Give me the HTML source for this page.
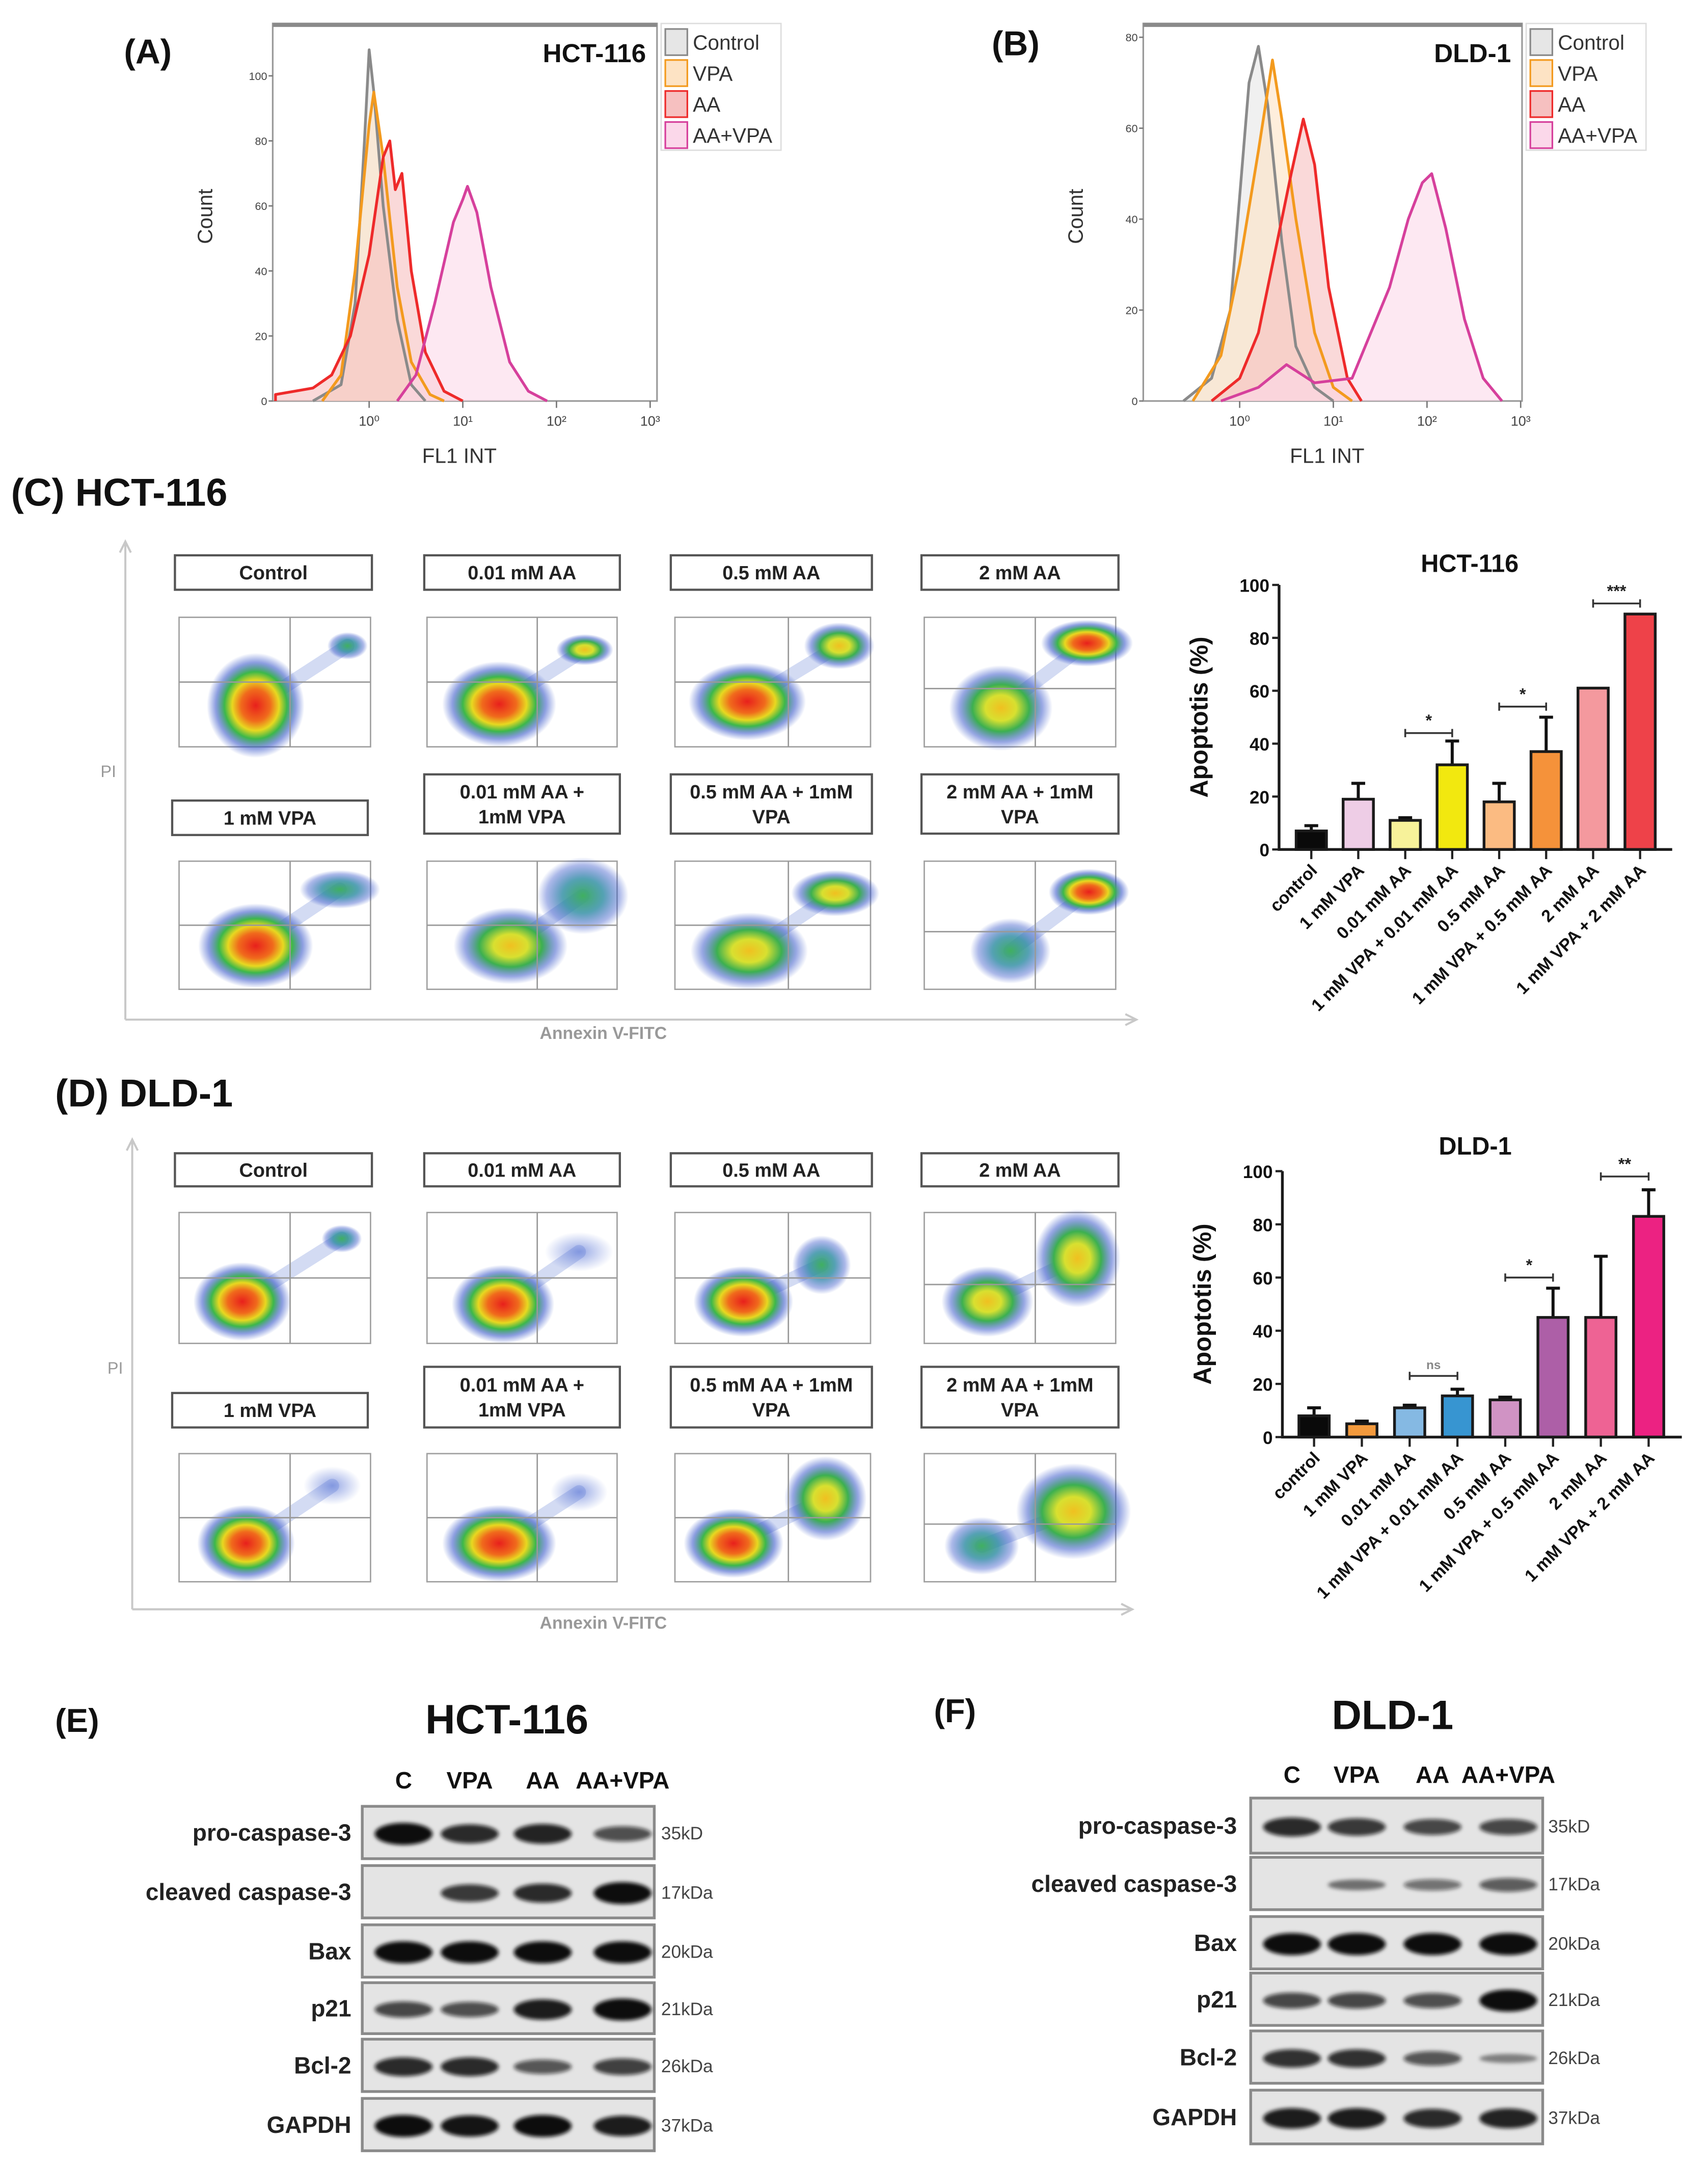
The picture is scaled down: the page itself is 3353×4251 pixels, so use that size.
<!DOCTYPE html>
<html><head><meta charset="utf-8"><style>
html,body{margin:0;padding:0;background:#fff;}
svg{display:block;font-family:"Liberation Sans",sans-serif;}
.n{font-family:"Liberation Sans Narrow","Liberation Sans",sans-serif;font-stretch:condensed;}
</style></head><body>
<svg id="fig" xmlns="http://www.w3.org/2000/svg" width="3353" height="4251" viewBox="0 0 1240 1572">
<defs>
<radialGradient id="g3"><stop offset="0" stop-color="#e8201c"/><stop offset="0.3" stop-color="#f06a1c"/><stop offset="0.48" stop-color="#e8d820"/><stop offset="0.64" stop-color="#3cb84a"/><stop offset="0.82" stop-color="#3050c8" stop-opacity="0.55"/><stop offset="1" stop-color="#3050c8" stop-opacity="0"/></radialGradient>
<radialGradient id="g2"><stop offset="0" stop-color="#f0c020"/><stop offset="0.3" stop-color="#d8e030"/><stop offset="0.55" stop-color="#3cb050"/><stop offset="0.8" stop-color="#3050c8" stop-opacity="0.5"/><stop offset="1" stop-color="#3050c8" stop-opacity="0"/></radialGradient>
<radialGradient id="g1"><stop offset="0" stop-color="#40b060"/><stop offset="0.45" stop-color="#2a8aa0" stop-opacity="0.8"/><stop offset="0.8" stop-color="#3050c8" stop-opacity="0.4"/><stop offset="1" stop-color="#3050c8" stop-opacity="0"/></radialGradient>
<radialGradient id="g0"><stop offset="0" stop-color="#4060d0" stop-opacity="0.55"/><stop offset="1" stop-color="#4060d0" stop-opacity="0"/></radialGradient>
<filter id="blur" x="-30%" y="-100%" width="160%" height="300%"><feGaussianBlur stdDeviation="1.4"/></filter>
</defs>
</svg>
<script>
// ---------- histogram data (x = log10 FL1, y = count) ----------
const hctControl=[[-0.6,0],[-0.3,5],[-0.15,30],[-0.05,80],[0,108],[0.05,95],[0.15,60],[0.3,25],[0.45,5],[0.6,0]];
const hctVPA=[[-0.5,0],[-0.3,8],[-0.15,40],[0,85],[0.05,95],[0.15,75],[0.3,35],[0.45,12],[0.65,2],[0.8,0]];
const hctAA=[[-1,2],[-0.6,4],[-0.4,8],[-0.2,20],[0,45],[0.15,75],[0.22,80],[0.28,65],[0.35,70],[0.45,40],[0.6,15],[0.8,3],[1,0]];
const hctAAVPA=[[0.3,0],[0.5,8],[0.7,30],[0.9,55],[1.0,62],[1.05,66],[1.15,58],[1.3,35],[1.5,12],[1.7,3],[1.9,0]];
const dldControl=[[-0.6,0],[-0.3,5],[-0.1,20],[0,45],[0.1,70],[0.2,78],[0.3,65],[0.45,35],[0.6,12],[0.8,3],[1,0]];
const dldVPA=[[-0.5,0],[-0.2,10],[0,30],[0.2,55],[0.35,75],[0.45,62],[0.6,40],[0.8,15],[1.0,3],[1.2,0]];
const dldAA=[[-0.3,0],[0,5],[0.2,15],[0.4,35],[0.55,50],[0.68,62],[0.8,52],[0.95,25],[1.15,5],[1.3,0]];
const dldAAVPA=[[-0.2,0],[0.2,3],[0.5,8],[0.8,4],[1.2,5],[1.4,15],[1.6,25],[1.8,40],[1.95,48],[2.05,50],[2.2,38],[2.4,18],[2.6,5],[2.8,0]];
const histNames=['Control','VPA','AA','AA+VPA'];
const histTicksA=[0,20,40,60,80,100];
const histTicksB=[0,20,40,60,80];
const decadeLabels=['10⁰','10¹','10²','10³'];
// ---------- bar chart data ----------
const barCats=['control','1 mM VPA','0.01 mM AA','1 mM VPA + 0.01 mM AA','0.5 mM AA','1 mM VPA + 0.5 mM AA','2 mM AA','1 mM VPA + 2 mM AA'];
const hctMeans=[7,19,11,32,18,37,61,89];
const hctErrTop=[9,25,12,41,25,50,61,89];
const dldMeans=[8,5,11,15.5,14,45,45,83];
const dldErrTop=[11,6,12,18,15,56,68,93];
const barTicks=[0,20,40,60,80,100];
const hctSig=[[2,3,44,'*'],[4,5,54,'*'],[6,7,93,'***']];
const dldSig=[[2,3,23,'ns'],[4,5,60,'*'],[6,7,98,'**']];
// ---------- blot data ----------
const blotRows=['pro-caspase-3','cleaved caspase-3','Bax','p21','Bcl-2','GAPDH'];
const blotKDa=['35kD','17kDa','20kDa','21kDa','26kDa','37kDa'];
const blotLanes=['C','VPA','AA','AA+VPA'];
const hctBands=[[1,0.8,0.85,0.55],[0,0.7,0.8,1],[1,1,1,1],[0.6,0.55,0.9,1],[0.8,0.8,0.5,0.65],[1,0.95,1,0.9]];
const dldBands=[[0.8,0.7,0.6,0.6],[0,0.25,0.3,0.45],[1,1,1,1],[0.6,0.6,0.55,1],[0.75,0.75,0.5,0.15],[0.9,0.9,0.8,0.85]];

const NS='http://www.w3.org/2000/svg';
const svg=document.getElementById('fig');
function mk(tag,attrs,parent){const e=document.createElementNS(NS,tag);for(const k in attrs)e.setAttribute(k,attrs[k]);(parent||svg).appendChild(e);return e;}
function tx(str,attrs,parent){const e=mk('text',attrs,parent);e.textContent=str;return e;}

// ---------- panel letters/titles ----------
const titles=[['(A)',90,46,25,'panel-a-label'],['(B)',720,40,25,'panel-b-label'],['(C) HCT-116',8,367,28,'panel-c-title'],['(D) DLD-1',40,803,28,'panel-d-title'],['(E)',40,1257,24,'panel-e-label'],['(F)',678,1250,24,'panel-f-label']];
titles.forEach(t=>{
  const e=tx(t[0],{x:t[1],y:t[2],'font-size':t[3],'font-weight':'bold',fill:'#111'});
  
  
});

// ---------- histograms ----------
const histCols=[['#8a8a8a','#e6e6e6'],['#f39a1e','#fde3c4'],['#ee2a2a','#f6c0c0'],['#d6409c','#fbd8ea']];
function hist(P,series,ticks){
  const g=mk('g',{});
  
  
  const xs=v=>P.xZero+v*P.dec;
  const ys=c=>P.yBase-c/P.yMax*(P.yBase-P.yMaxPx);
  const fr=mk('rect',{x:P.left,y:P.top,width:P.right-P.left,height:P.yBase-P.top,fill:'#fff',stroke:'#9a9a9a','stroke-width':1.2},g);
  
  
  const tl=mk('line',{x1:P.left,x2:P.right,y1:P.top+1,y2:P.top+1,stroke:'#8a8a8a','stroke-width':3},g);
  
  
  series.forEach((s,i)=>{
    let d='M'+xs(s[0][0])+','+P.yBase;
    s.forEach(p=>{d+=' L'+xs(p[0]).toFixed(1)+','+ys(p[1]).toFixed(1);});
    d+=' L'+xs(s[s.length-1][0])+','+P.yBase;
    const f=mk('path',{d:d+'Z',fill:histCols[i][1],'fill-opacity':0.6,stroke:'none'},g);
    
    
  });
  series.forEach((s,i)=>{
    let d='M'+xs(s[0][0])+','+P.yBase;
    s.forEach(p=>{d+=' L'+xs(p[0]).toFixed(1)+','+ys(p[1]).toFixed(1);});
    const l=mk('path',{d:d,fill:'none',stroke:histCols[i][0],'stroke-width':2,'stroke-linejoin':'round'},g);
    
    
  });
  ticks.forEach(t=>{
    const tk=mk('line',{x1:P.left-3,x2:P.left,y1:ys(t),y2:ys(t),stroke:'#777','stroke-width':1},g);
    
    
    const tl2=tx(String(t),{x:P.left-4,y:ys(t)+3,'font-size':8,'text-anchor':'end',fill:'#444'},g);
    
    
  });
  decadeLabels.forEach((lab,i)=>{
    const tk=mk('line',{x1:xs(i),x2:xs(i),y1:P.yBase,y2:P.yBase+5,stroke:'#777','stroke-width':1},g);
    
    
    const t=tx(lab,{x:xs(i),y:P.yBase+18,'font-size':10,'text-anchor':'middle',fill:'#444'},g);
    
    
  });
  const xt=tx('FL1 INT',{x:(P.left+P.right)/2-4,y:P.yBase+45,'font-size':15,'text-anchor':'middle',fill:'#333',class:'n'},g);
  
  
  const yt=tx('Count',{x:0,y:0,'font-size':15,'text-anchor':'middle',fill:'#333',transform:'translate('+(P.left-44)+','+(P.top+140)+') rotate(-90)'},g);
  
  
  const ct=tx(P.cell,{x:P.right-8,y:P.top+28,'font-size':19,'font-weight':'bold','text-anchor':'end',fill:'#111',class:'n'},g);
  
  
  const lg=mk('rect',{x:P.right+3,y:P.top,width:87,height:92,fill:'#fff',stroke:'#ddd','stroke-width':1},g);
  
  
  histNames.forEach((n,i)=>{
    const sw=mk('rect',{x:P.right+6,y:P.top+4+i*22.5,width:16,height:19,fill:histCols[i][1],stroke:histCols[i][0],'stroke-width':1.2},g);
    
    
    const lt=tx(n,{x:P.right+26,y:P.top+19+i*22.5,'font-size':15,fill:'#333',class:'n'},g);
    
    
  });
}
hist({name:'histogram-hct116',cell:'HCT-116',left:198,right:477,top:17,yBase:291,xZero:268,dec:68,yMax:100,yMaxPx:55},[hctControl,hctVPA,hctAA,hctAAVPA],histTicksA);
hist({name:'histogram-dld1',cell:'DLD-1',left:830,right:1105,top:17,yBase:291,xZero:900,dec:68,yMax:80,yMaxPx:27},[dldControl,dldVPA,dldAA,dldAAVPA],histTicksB);

// ---------- flow cytometry dot plots ----------
const labelsRow1=['Control','0.01 mM AA','0.5 mM AA','2 mM AA'];
const labelsRow2=[['1 mM VPA'],['0.01 mM AA +','1mM VPA'],['0.5 mM AA + 1mM','VPA'],['2 mM AA + 1mM','VPA']];
const plotX=[[130,269],[310,448],[490,632],[671,810]];
const boxX=[[127,270],[308,450],[487,633],[669,812]];
const hctClusters=[[[0.4,0.68,0.17,0.27,3],[0.88,0.22,0.07,0.07,1]],[[0.38,0.67,0.2,0.22,3],[0.83,0.25,0.1,0.08,2]],[[0.37,0.65,0.2,0.2,3],[0.84,0.22,0.12,0.12,2]],[[0.4,0.7,0.18,0.22,2],[0.85,0.2,0.16,0.12,3]],
[[0.4,0.66,0.2,0.22,3],[0.84,0.22,0.14,0.1,1]],[[0.44,0.66,0.2,0.2,2],[0.82,0.27,0.16,0.2,1]],[[0.38,0.7,0.2,0.2,2],[0.82,0.25,0.15,0.12,2]],[[0.45,0.7,0.14,0.17,1],[0.86,0.24,0.14,0.12,3]]];
const dldClusters=[[[0.33,0.68,0.17,0.2,3],[0.85,0.2,0.07,0.07,1]],[[0.4,0.7,0.18,0.2,3],[0.8,0.3,0.12,0.1,0]],[[0.35,0.68,0.17,0.18,3],[0.75,0.4,0.1,0.15,1]],[[0.33,0.68,0.16,0.18,2],[0.8,0.35,0.15,0.25,2]],
[[0.35,0.7,0.17,0.2,3],[0.8,0.25,0.1,0.1,0]],[[0.38,0.7,0.2,0.2,3],[0.8,0.3,0.1,0.1,0]],[[0.3,0.7,0.17,0.18,3],[0.77,0.35,0.14,0.22,2]],[[0.3,0.72,0.13,0.15,1],[0.78,0.45,0.2,0.25,2]]];
function flow(P,clusters){
  const g=mk('g',{});
  
  
  const va=mk('path',{d:'M'+P.ax+','+P.ay1+' L'+P.ax+','+P.ay0+' M'+(P.ax-4)+','+(P.ay0+8)+' L'+P.ax+','+P.ay0+' L'+(P.ax+4)+','+(P.ay0+8),fill:'none',stroke:'#c8c8c8','stroke-width':1.5},g);
  
  
  const ha=mk('path',{d:'M'+P.ax+','+P.ay1+' L'+P.axEnd+','+P.ay1+' M'+(P.axEnd-8)+','+(P.ay1-4)+' L'+P.axEnd+','+P.ay1+' L'+(P.axEnd-8)+','+(P.ay1+4),fill:'none',stroke:'#c8c8c8','stroke-width':1.5},g);
  
  
  const pi=tx('PI',{x:P.ax-18,y:P.piY,'font-size':12,fill:'#999'},g);
  
  
  const an=tx('Annexin V-FITC',{x:438,y:P.ay1+14,'font-size':12.5,'font-weight':'bold','text-anchor':'middle',fill:'#999'},g);
  
  
  for(let r=0;r<2;r++){
    for(let c=0;c<4;c++){
      const i=r*4+c;
      const [x0,x1]=plotX[c];const [y0,y1]=P.rows[r];
      const fr=mk('rect',{x:x0,y:y0,width:x1-x0,height:y1-y0,fill:'#fff',stroke:'#a0a0a0','stroke-width':1},g);
      
      
      const cl=clusters[i];
      const a=cl[0],b=cl[1];
      const bridge=mk('line',{x1:x0+a[0]*(x1-x0),y1:y0+a[1]*(y1-y0),x2:x0+b[0]*(x1-x0),y2:y0+b[1]*(y1-y0),stroke:'#5070d0','stroke-opacity':0.25,'stroke-width':10,'stroke-linecap':'round'},g);
      
      
      cl.forEach(k=>{
        const e=mk('ellipse',{cx:x0+k[0]*(x1-x0),cy:y0+k[1]*(y1-y0),rx:k[2]*(x1-x0)*1.5,ry:k[3]*(y1-y0)*1.5,fill:'url(#g'+k[4]+')'},g);
        
        
      });
      const qy=(c===3)?0.55:0.5;
      const q=mk('path',{d:'M'+(x0+0.58*(x1-x0))+','+y0+' V'+y1+' M'+x0+','+(y0+qy*(y1-y0))+' H'+x1,stroke:'#999','stroke-width':1,fill:'none'},g);
      
      
      const bx=(r===1&&c===0)?[125,267]:boxX[c];
      const lines=r===0?[labelsRow1[c]]:labelsRow2[c];
      const by0=r===0?P.box1[0]:(lines.length===1?P.box2s[0]:P.box2d[0]);
      const by1=r===0?P.box1[1]:(lines.length===1?P.box2s[1]:P.box2d[1]);
      const lb=mk('rect',{x:bx[0],y:by0,width:bx[1]-bx[0],height:by1-by0,fill:'#fff',stroke:'#555','stroke-width':1.6},g);
      
      
      lines.forEach((s,j)=>{
        const cy=(by0+by1)/2+(j-(lines.length-1)/2)*18+5;
        const t=tx(s,{x:(bx[0]+bx[1])/2,y:cy,'font-size':14,'font-weight':'bold','text-anchor':'middle',fill:'#222',class:'n'},g);
        
        
      });
    }
  }
}
flow({name:'flow-dot-plots-hct116',ax:91,ay0:393,ay1:740,axEnd:825,piY:564,rows:[[448,542],[625,718]],box1:[403,428],box2s:[581,606],box2d:[562,605]},hctClusters);
flow({name:'flow-dot-plots-dld1',ax:96,ay0:827,ay1:1168,axEnd:822,piY:997,rows:[[880,975],[1055,1148]],box1:[837,861],box2s:[1011,1036],box2d:[992,1036]},dldClusters);

// ---------- bar charts ----------
function bars(P,means,errs,sig,cols){
  const g=mk('g',{});
  
  
  const ys=v=>P.y0-v/100*(P.y0-P.y100);
  const xc=i=>P.first+i*P.step;
  means.forEach((m,i)=>{
    if(errs[i]>m){
      const el=mk('path',{d:'M'+xc(i)+','+ys(m)+' V'+ys(errs[i])+' M'+(xc(i)-5)+','+ys(errs[i])+' H'+(xc(i)+5),stroke:'#111','stroke-width':2.2,fill:'none'},g);
      
      
    }
    const b=mk('rect',{x:xc(i)-11,y:ys(m),width:22,height:ys(0)-ys(m),fill:cols[i],stroke:'#1a1a1a','stroke-width':2},g);
    
    
    const tk=mk('line',{x1:xc(i),x2:xc(i),y1:ys(0),y2:ys(0)+7,stroke:'#222','stroke-width':1.6},g);
    
    
    const lab=tx(barCats[i],{x:0,y:0,'font-size':12.5,'font-weight':'bold','text-anchor':'end',fill:'#111',transform:'translate('+(xc(i)+5)+','+(ys(0)+16)+') rotate(-45)'},g);
    
    
  });
  const ax=mk('path',{d:'M'+P.axisX+','+ys(100)+' V'+ys(0)+' H'+P.axisEnd,stroke:'#1a1a1a','stroke-width':2,fill:'none'},g);
  
  
  barTicks.forEach(t=>{
    const tk=mk('line',{x1:P.axisX-5,x2:P.axisX,y1:ys(t),y2:ys(t),stroke:'#222','stroke-width':1.6},g);
    
    
    const tl=tx(String(t),{x:P.axisX-7,y:ys(t)+5,'font-size':13,'font-weight':'bold','text-anchor':'end',fill:'#111'},g);
    
    
  });
  sig.forEach(s=>{
    const y=ys(s[2]);
    const br=mk('path',{d:'M'+xc(s[0])+','+(y-3)+' V'+(y+3)+' M'+xc(s[0])+','+y+' H'+xc(s[1])+' M'+xc(s[1])+','+(y-3)+' V'+(y+3),stroke:'#333','stroke-width':1.3,fill:'none'},g);
    
    
    const st=tx(s[3],{x:(xc(s[0])+xc(s[1]))/2,y:y-5,'font-size':s[3]==='ns'?9:12,'font-weight':'bold','text-anchor':'middle',fill:s[3]==='ns'?'#888':'#222'},g);
    
    
  });
  const ti=tx(P.title,{x:P.titleX,y:P.titleY,'font-size':18,'font-weight':'bold','text-anchor':'middle',fill:'#111'},g);
  
  
  const yt=tx('Apoptotis (%)',{x:0,y:0,'font-size':18,'font-weight':'bold','text-anchor':'middle',fill:'#111',transform:'translate('+(P.axisX-52)+','+((ys(0)+ys(100))/2)+') rotate(-90)'},g);
  
  
}
bars({name:'apoptosis-bar-chart-hct116',title:'HCT-116',titleX:1067,titleY:415,axisX:928.6,axisEnd:1214,y0:616.5,y100:424.5,first:952,step:34.1},hctMeans,hctErrTop,hctSig,['#0a0a0a','#eecde6','#f7f29a','#f2e80f','#fbbb82','#f5923a','#f4999e','#ee4249']);
bars({name:'apoptosis-bar-chart-dld1',title:'DLD-1',titleX:1071,titleY:838,axisX:931,axisEnd:1221,y0:1043,y100:850,first:954,step:34.7},dldMeans,dldErrTop,dldSig,['#0a0a0a','#f39a3d','#85b9e3','#3795d1','#d093c4','#ad5fa7','#ee6394','#ec2282']);

// ---------- western blots ----------
function blot(P,bands){
  const g=mk('g',{});
  
  
  const ti=tx(P.title,{x:P.titleX,y:P.titleY,'font-size':30,'font-weight':'bold','text-anchor':'middle',fill:'#111',class:'n'},g);
  
  
  blotLanes.forEach((l,i)=>{
    const t=tx(l,{x:P.laneX[i],y:P.laneY,'font-size':17,'font-weight':'bold','text-anchor':'middle',fill:'#111',class:'n'},g);
    
    
  });
  blotRows.forEach((rname,r)=>{
    const [y0,y1]=P.rows[r];
    const fr=mk('rect',{x:P.x0,y:y0,width:P.x1-P.x0,height:y1-y0,fill:'#e4e4e4',stroke:'#8a8a8a','stroke-width':2},g);
    
    
    bands[r].forEach((v,i)=>{
      if(v<=0)return;
      const b=mk('ellipse',{cx:P.laneX[i],cy:(y0+y1)/2+1,rx:21,ry:2.5+v*5.5,fill:'#0c0c0c','fill-opacity':0.35+0.65*v,filter:'url(#blur)'},g);
      
      
    });
    const lt=tx(rname,{x:P.labelX,y:(y0+y1)/2+6,'font-size':17,'font-weight':'bold','text-anchor':'end',fill:'#222',class:'n'},g);
    
    
    const kt=tx(blotKDa[r],{x:P.kdX,y:(y0+y1)/2+5,'font-size':13,fill:'#444',class:'n'},g);
    
    
  });
}
blot({name:'western-blot-hct116',title:'HCT-116',titleX:368,titleY:1258,laneX:[293,341,394,452],laneY:1298,x0:263,x1:475,labelX:255,kdX:480,rows:[[1311,1349],[1354,1392],[1397,1435],[1439,1476],[1480,1518],[1523,1561]]},hctBands);
blot({name:'western-blot-dld1',title:'DLD-1',titleX:1011,titleY:1255,laneX:[938,985,1040,1095],laneY:1294,x0:908,x1:1120,labelX:898,kdX:1124,rows:[[1305,1345],[1348,1386],[1391,1429],[1432,1470],[1474,1512],[1517,1556]]},dldBands);
</script>
</body></html>
